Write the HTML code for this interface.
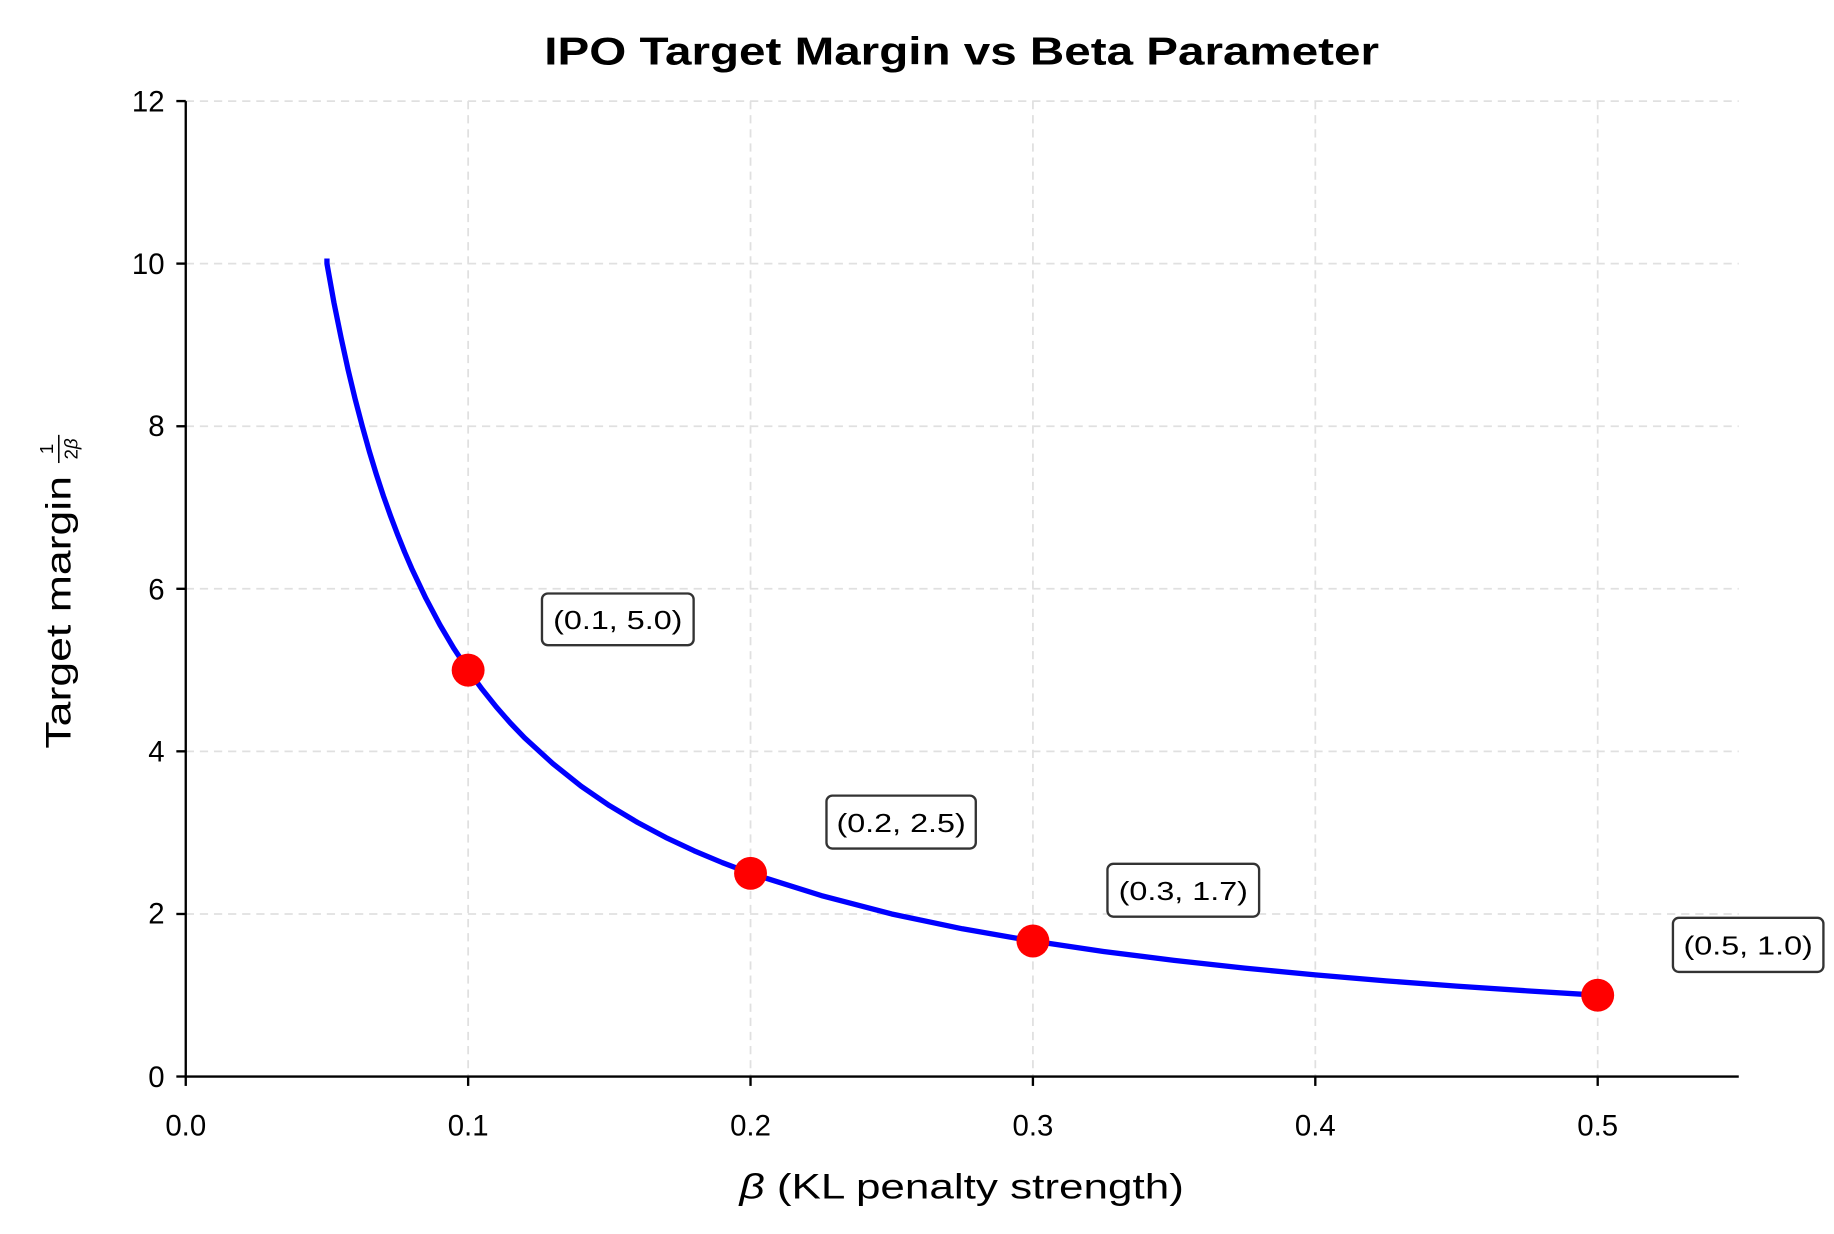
<!DOCTYPE html>
<html><head><meta charset="utf-8"><style>
html,body{margin:0;padding:0;background:#fff;}
svg{display:block;}
text{font-family:"Liberation Sans",sans-serif;fill:#000;}
</style></head><body>
<svg width="1834" height="1234" viewBox="0 0 1560 1050" preserveAspectRatio="none" xmlns="http://www.w3.org/2000/svg">
<rect width="1560" height="1050" fill="#fff"/>
<g stroke="#e0e0e0" stroke-width="1.5" stroke-dasharray="7,5">
<line x1="398.2" y1="86" x2="398.2" y2="916"/>
<line x1="638.4" y1="86" x2="638.4" y2="916"/>
<line x1="878.6" y1="86" x2="878.6" y2="916"/>
<line x1="1118.8" y1="86" x2="1118.8" y2="916"/>
<line x1="1359" y1="86" x2="1359" y2="916"/>
<line x1="158" y1="86" x2="1479" y2="86"/>
<line x1="158" y1="224.3" x2="1479" y2="224.3"/>
<line x1="158" y1="362.7" x2="1479" y2="362.7"/>
<line x1="158" y1="501" x2="1479" y2="501"/>
<line x1="158" y1="639.3" x2="1479" y2="639.3"/>
<line x1="158" y1="777.7" x2="1479" y2="777.7"/>
</g>
<polyline fill="none" stroke="#0000ff" stroke-width="4.5" stroke-linejoin="round" points="278.1,220 278.1,224.3 284.1,257.7 290.1,287.2 296.1,314.7 302.1,339.6 308.1,362.4 314.1,383.9 320.1,403.6 326.1,421.9 332.2,439 338.2,454.9 344.2,469.8 350.2,483.7 362.2,509 374.2,531.7 386.2,552 398.2,570.2 410.2,586.6 422.2,601.6 434.2,615.3 446.2,627.8 470.3,649.8 494.3,669 518.3,685.4 542.3,699.8 566.3,712.6 590.4,723.9 614.4,734 638.4,743.1 698.5,762 758.5,777.7 818.6,790.3 878.6,800.7 938.6,809.6 998.7,817.2 1058.8,823.8 1118.8,829.5 1178.9,834.6 1238.9,839.1 1299,843.1 1359,846.8"/>
<g fill="#ff0000">
<circle cx="398.2" cy="570.2" r="14"/>
<circle cx="638.4" cy="743.1" r="14"/>
<circle cx="878.6" cy="800.7" r="14"/>
<circle cx="1359" cy="846.8" r="14"/>
</g>
<g fill="#fff" stroke="#333" stroke-width="2">
<rect x="461" y="505" width="129" height="44" rx="5"/>
<rect x="703" y="677" width="127" height="45" rx="5"/>
<rect x="942" y="735" width="129" height="45" rx="5"/>
<rect x="1423" y="781" width="128" height="46" rx="5"/>
</g>
<g font-size="22" text-anchor="middle">
<text x="525.5" y="535" textLength="110" lengthAdjust="spacingAndGlyphs">(0.1, 5.0)</text>
<text x="766.5" y="708" textLength="110" lengthAdjust="spacingAndGlyphs">(0.2, 2.5)</text>
<text x="1006.5" y="766" textLength="110" lengthAdjust="spacingAndGlyphs">(0.3, 1.7)</text>
<text x="1487" y="812" textLength="110" lengthAdjust="spacingAndGlyphs">(0.5, 1.0)</text>
</g>
<g stroke="#000" stroke-width="2">
<line x1="158" y1="86" x2="158" y2="917"/>
<line x1="157" y1="916" x2="1479" y2="916"/>
<line x1="150" y1="86" x2="158" y2="86"/>
<line x1="150" y1="224.3" x2="158" y2="224.3"/>
<line x1="150" y1="362.7" x2="158" y2="362.7"/>
<line x1="150" y1="501" x2="158" y2="501"/>
<line x1="150" y1="639.3" x2="158" y2="639.3"/>
<line x1="150" y1="777.7" x2="158" y2="777.7"/>
<line x1="150" y1="916" x2="158" y2="916"/>
<line x1="158" y1="916" x2="158" y2="924"/>
<line x1="398.2" y1="916" x2="398.2" y2="924"/>
<line x1="638.4" y1="916" x2="638.4" y2="924"/>
<line x1="878.6" y1="916" x2="878.6" y2="924"/>
<line x1="1118.8" y1="916" x2="1118.8" y2="924"/>
<line x1="1359" y1="916" x2="1359" y2="924"/>
</g>
<g font-size="25" text-anchor="end">
<text x="140" y="95">12</text>
<text x="140" y="233">10</text>
<text x="140" y="371">8</text>
<text x="140" y="510">6</text>
<text x="140" y="648">4</text>
<text x="140" y="786">2</text>
<text x="140" y="925">0</text>
</g>
<g font-size="25" text-anchor="middle">
<text x="158" y="966">0.0</text>
<text x="398.2" y="966">0.1</text>
<text x="638.4" y="966">0.2</text>
<text x="878.6" y="966">0.3</text>
<text x="1118.8" y="966">0.4</text>
<text x="1359" y="966">0.5</text>
</g>
<text x="818" y="1020" font-size="30" text-anchor="middle" textLength="378" lengthAdjust="spacingAndGlyphs"><tspan font-style="italic">β</tspan> (KL penalty strength)</text>
<text x="818" y="55" font-size="33" font-weight="bold" text-anchor="middle" textLength="710" lengthAdjust="spacingAndGlyphs">IPO Target Margin vs Beta Parameter</text>
<g transform="translate(60,637) rotate(-90)">
<text x="0" y="0" font-size="30" textLength="232" lengthAdjust="spacingAndGlyphs">Target margin</text>
<text x="255" y="-15" font-size="16" text-anchor="middle">1</text>
<line x1="243" y1="-10" x2="267" y2="-10" stroke="#000" stroke-width="1.3"/>
<text x="255" y="6" font-size="16" text-anchor="middle">2<tspan font-style="italic">β</tspan></text>
</g>
</svg>
</body></html>
